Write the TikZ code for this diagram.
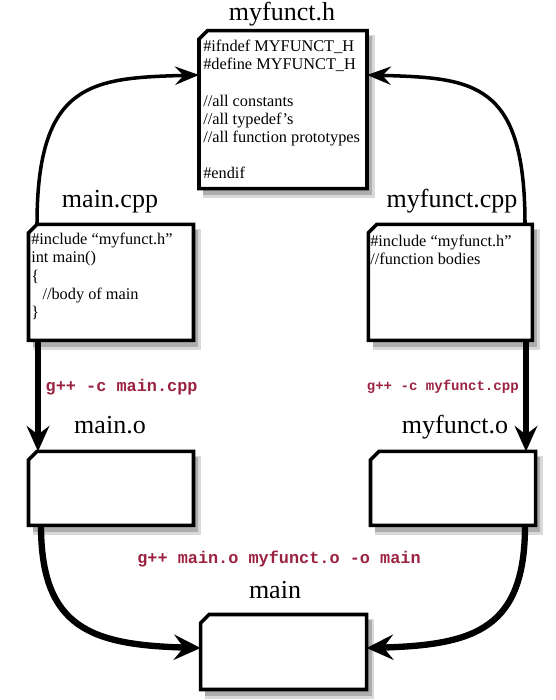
\documentclass[tikz,border=0pt]{standalone}
\usepackage{fontspec}
\setmainfont{Liberation Serif}
\setmonofont{Liberation Mono}
\usetikzlibrary{arrows.meta}
\definecolor{cmdred}{RGB}{155,35,65}
% a file: named box, its shadow and its outline with the corner cut off
\newcommand{\srcfile}[4]{%
  \node[filebox, minimum width=#3, minimum height=#4] (#1) at (#2) {};
  \fill[fileshadow, black!15] ([shift={(3pt,-3pt)}]#1.north west) rectangle ([shift={(5.5pt,-6.5pt)}]#1.south east);
  \fill[fileshadow] ([shift={(3pt,-4pt)}]#1.north west) rectangle ([shift={(3.5pt,-4.5pt)}]#1.south east);
  \filldraw[fileline] ([yshift=-6pt]#1.north west) -- ([xshift=6pt]#1.north west) -- (#1.north east)
    -- (#1.south east) -- (#1.south west) -- cycle;}
\begin{document}
\begin{tikzpicture}
        [filebox/.style={rectangle, inner sep=0pt, outer sep=0pt},
        fileshadow/.style={fill=black!32},
        fileline/.style={draw, line width=2.5pt, fill=white, line join=miter},
        title/.style={anchor=base, font=\fontsize{18.5}{22}\selectfont},
        code/.style={anchor=north west, align=left, inner sep=0pt, font=\fontsize{11.6}{12.9}\selectfont},
        cmd/.style={text=cmdred, font=\ttfamily\bfseries\fontsize{12}{14}\selectfont},
        include/.style={line width=2.5pt, -{Stealth[length=17pt, width=13pt, inset=6pt]}},
        compile/.style={line width=4pt, -{Stealth[length=18pt, width=16pt, inset=6pt]}},
        link/.style={line width=4.5pt, -{Stealth[length=19pt, width=18pt, inset=7pt]}}]

        \useasboundingbox (0,0) rectangle (13.875,17.5);

        % Files
        \srcfile{H}{7.075,14.76}{4.2cm}{3.95cm}
        \srcfile{MC}{2.775,10.44}{4.125cm}{2.9cm}
        \srcfile{FC}{11.26,10.44}{4.1cm}{2.9cm}
        \srcfile{MO}{2.775,5.29}{4.125cm}{1.85cm}
        \srcfile{FO}{11.325,5.29}{4.125cm}{1.85cm}
        \srcfile{M}{7.09,1.2}{4.15cm}{1.875cm}

        % File names
        \node[title] (Ht) at (7.05,16.98) {myfunct.h};
        \node[title] (MCt) at (2.75,12.3) {main.cpp};
        \node[title] (FCt) at (11.3,12.3) {myfunct.cpp};
        \node[title] (MOt) at (2.75,6.65) {main.o};
        \node[title] (FOt) at (11.375,6.65) {myfunct.o};
        \node[title] (Mt) at (6.875,2.54) {main};

        % File contents
        \node[code] (Hc) at (5.075,16.5) {\#ifndef MYFUNCT\_H\\\#define MYFUNCT\_H\\[12.9pt]//all constants\\//all typedef’s\\//all function prototypes\\[12.9pt]\#endif};
        \node[code] (MCc) at (0.775,11.675) {\#include “myfunct.h”\\int main()\\\{\\\hspace*{8pt}//body of main\\\}};
        \node[code] (FCc) at (9.25,11.625) {\#include “myfunct.h”\\//function bodies};

        % Compiler commands
        \node[cmd] (c1) at (3.04,7.83) {g++ -c main.cpp};
        \node[cmd, font=\ttfamily\bfseries\fontsize{10}{12}\selectfont] (c2) at (11.07,7.83) {g++ -c myfunct.cpp};
        \node[cmd] (c3) at (6.975,3.525) {g++ main.o myfunct.o -o main};

        % Includes
        \draw[include] ([xshift=-1.85cm]MC.north) .. controls +(0,3.575) and +(-2.675,-0.075) .. ([yshift=0.865cm]H.west);
        \draw[include] ([xshift=1.865cm]FC.north) .. controls +(0,3.575) and +(2.675,-0.075) .. ([yshift=0.865cm]H.east);

        % Compiling
        \draw[compile] ([xshift=-1.825cm]MC.south) -- ([xshift=-1.825cm]MO.north);
        \draw[compile] ([xshift=1.89cm]FC.south) -- ([xshift=1.825cm]FO.north);

        % Linking
        \draw[link] ([xshift=-1.75cm]MO.south) .. controls +(0,-2.575) and +(-2.725,0.075) .. ([yshift=0.1cm]M.west);
        \draw[link] ([xshift=1.8cm]FO.south) .. controls +(0,-2.575) and +(2.725,0.075) .. ([yshift=0.1cm]M.east);

    \end{tikzpicture}
\end{document}
